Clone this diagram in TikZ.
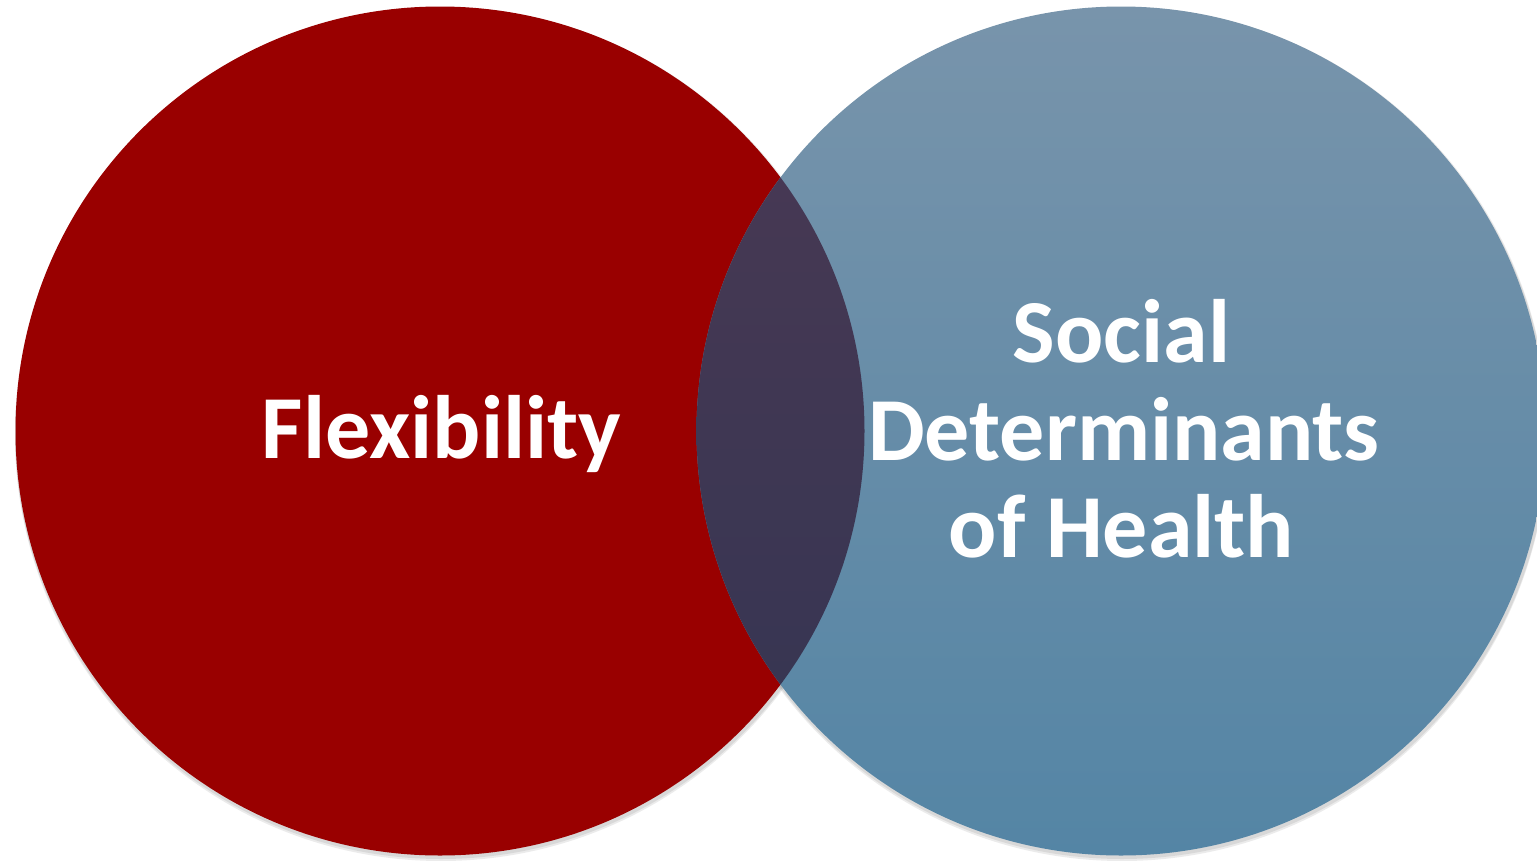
\documentclass[tikz,border=0pt]{standalone}
\usepackage{fontspec}
\setmainfont{Carlito}
\definecolor{redc}{HTML}{990000}
\definecolor{bluetop}{HTML}{7894AB}
\definecolor{bluemid}{HTML}{5E8CA9}
\definecolor{bluebot}{HTML}{5485A5}
\definecolor{lenstop}{HTML}{4B3954}
\definecolor{lensmid}{HTML}{3A3856}
\definecolor{lensbot}{HTML}{333552}
\tikzset{
  lbl/.style={text=white,font=\bfseries\fontsize{90}{97}\selectfont,anchor=base,inner sep=0pt},
  circshadow/.style={fill=black,opacity=0.08}
}
\begin{document}
\begin{tikzpicture}[x=1pt,y=-1pt]
\useasboundingbox (0,0) rectangle (1537,860);
\fill[white] (0,0) rectangle (1537,860);
% shadows of circles
\fill[circshadow] (441,433) circle (426);
\fill[circshadow] (1122,433) circle (426);
\fill[circshadow] (441,435) circle (426);
\fill[circshadow] (1122,435) circle (426);
% red circle
\fill[redc] (440,431) circle (424.5);
% blue circle
\shade[top color=bluetop,middle color=bluemid,bottom color=bluebot] (1121,431) circle (424.5);
% lens
\begin{scope}
  \clip (440,431) circle (424.5);
  \shade[top color=lenstop,middle color=lensmid,bottom color=lensbot] (1121,431) circle (424.5);
\end{scope}
% labels
\node[lbl] (flex) at (441.5,458) {Flexibility};
\node[lbl] (soc) at (1121.5,362) {Social};
\node[lbl] (det) at (1124,460) {Determinants};
\node[lbl] (ofh) at (1121.5,557) {of Health};
\end{tikzpicture}
\end{document}
